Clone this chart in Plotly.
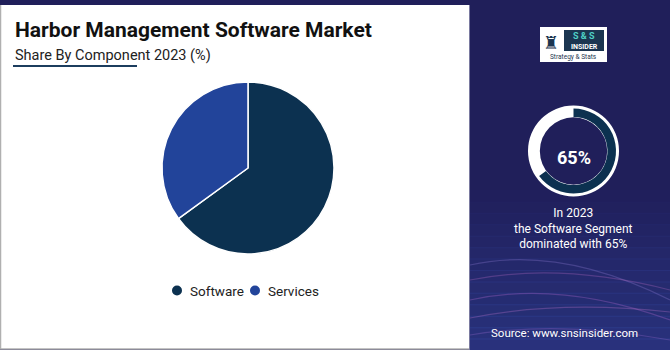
import plotly.graph_objects as go

W, H = 670, 350
categories = ["Software", "Services"]
shares = [65, 35]
colors = ["#0c3150", "#22449a"]
highlight_value = 65

title = "Harbor Management Software Market"
subtitle = "Share By Component 2023 (%)"
note_lines = ["In 2023", "the Software Segment", "dominated with 65%"]
source = "Source: www.snsinsider.com"

NAVY = "#201f5a"


def px(x):
    return x / W


def py(y):
    return 1 - y / H


fig = go.Figure()

# main pie
fig.add_trace(go.Pie(
    labels=categories, values=shares, sort=False, direction="clockwise",
    rotation=0, marker=dict(colors=colors, line=dict(color="white", width=1.5)),
    textinfo="none", hoverinfo="label+percent", showlegend=False,
    domain=dict(x=[px(162), px(334)], y=[py(254), py(82)]),
))

# right donut: white ring
fig.add_trace(go.Pie(
    values=[100], labels=["ring"], hole=0.74, sort=False,
    marker=dict(colors=["white"], line=dict(width=0)),
    textinfo="none", hoverinfo="skip", showlegend=False,
    domain=dict(x=[px(528), px(619)], y=[py(196.5), py(105.5)]),
))
# right donut: highlighted arc
fig.add_trace(go.Pie(
    values=[highlight_value, 100 - highlight_value], labels=["Software", "rest"],
    hole=0.80, sort=False, direction="clockwise", rotation=0,
    marker=dict(colors=[colors[0], "rgba(0,0,0,0)"], line=dict(width=0)),
    textinfo="none", hoverinfo="skip", showlegend=False,
    domain=dict(x=[px(531), px(616)], y=[py(193.5), py(108.5)]),
))

shapes = [
    # full navy background
    dict(type="rect", xref="paper", yref="paper", x0=0, x1=1, y0=0, y1=1,
         fillcolor=NAVY, line=dict(width=0), layer="below"),
]
# gradient toward bluer bottom in right panel
n_steps = 14
for i in range(n_steps):
    y0 = 190 + i * (160 / n_steps)
    shapes.append(dict(type="rect", xref="paper", yref="paper", x0=px(470), x1=1,
                       y0=py(y0 + 160 / n_steps + 1), y1=py(y0),
                       fillcolor=f"rgba(50,70,160,{0.035 * (i + 1):.3f})",
                       line=dict(width=0), layer="below"))
# decorative waves
wave_specs = [
    (265, 245, 300, "rgba(150,130,220,0.30)"),
    (280, 262, 290, "rgba(190,110,200,0.30)"),
    (300, 280, 320, "rgba(170,100,200,0.35)"),
    (318, 300, 312, "rgba(200,120,210,0.30)"),
    (335, 320, 340, "rgba(160,110,210,0.30)"),
]
for ys, yc, ye, col in wave_specs:
    shapes.append(dict(type="path", xref="paper", yref="paper",
                       path=f"M {px(470)},{py(ys)} Q {px(560)},{py(yc)} {px(670)},{py(ye)}",
                       line=dict(color=col, width=1.2), layer="below"))

shapes += [
    # white panel
    dict(type="rect", xref="paper", yref="paper", x0=px(0), x1=px(469),
         y0=py(349), y1=py(5), fillcolor="white", line=dict(width=0), layer="below"),
    dict(type="line", xref="paper", yref="paper", x0=px(0.5), x1=px(0.5),
         y0=py(349), y1=py(5), line=dict(color="#b0b0b0", width=1.5), layer="below"),
    dict(type="line", xref="paper", yref="paper", x0=px(0), x1=px(469),
         y0=py(349), y1=py(349), line=dict(color="#b0b0b0", width=1.5), layer="below"),
    dict(type="line", xref="paper", yref="paper", x0=px(469.5), x1=px(469.5),
         y0=0, y1=py(5), line=dict(color="#7a7aa0", width=1), layer="below"),
    # subtitle underline
    dict(type="line", xref="paper", yref="paper", x0=px(13), x1=px(137),
         y0=py(66), y1=py(66), line=dict(color="#1c3d5e", width=2)),
    # logo box
    dict(type="rect", xref="paper", yref="paper", x0=px(540), x1=px(607),
         y0=py(62), y1=py(27), fillcolor="white", line=dict(width=0)),
    dict(type="rect", xref="paper", yref="paper", x0=px(564), x1=px(604),
         y0=py(51), y1=py(30), fillcolor="#1b3550", line=dict(width=0)),
]

annotations = [
    dict(text=f"<b>{title}</b>", x=px(13), y=py(30), xref="paper", yref="paper",
         xanchor="left", yanchor="middle", showarrow=False,
         font=dict(family="Roboto", size=21, color="#111111")),
    dict(text=subtitle, x=px(13), y=py(55), xref="paper", yref="paper",
         xanchor="left", yanchor="middle", showarrow=False,
         font=dict(family="Roboto", size=14.5, color="#222222")),
    dict(text=f"<b>{highlight_value}%</b>", x=px(573.5), y=py(157), xref="paper", yref="paper",
         xanchor="center", yanchor="middle", showarrow=False,
         font=dict(family="Roboto", size=18, color="white")),
    dict(text="<br>".join(note_lines), x=px(573.5), y=py(228), xref="paper", yref="paper",
         xanchor="center", yanchor="middle", showarrow=False, align="center",
         font=dict(family="Roboto", size=12, color="white")),
    dict(text=source, x=px(564.5), y=py(333), xref="paper", yref="paper",
         xanchor="center", yanchor="middle", showarrow=False,
         font=dict(family="Roboto", size=11.5, color="white")),
    # logo text
    dict(text="<b>S &amp; S</b>", x=px(584), y=py(36), xref="paper", yref="paper",
         xanchor="center", yanchor="middle", showarrow=False,
         font=dict(family="Roboto", size=9, color="#4fd1c5")),
    dict(text="<b>INSIDER</b>", x=px(584), y=py(46.5), xref="paper", yref="paper",
         xanchor="center", yanchor="middle", showarrow=False,
         font=dict(family="Roboto", size=7, color="white")),
    dict(text="Strategy &amp; Stats", x=px(573.5), y=py(57), xref="paper", yref="paper",
         xanchor="center", yanchor="middle", showarrow=False,
         font=dict(family="Roboto", size=6.5, color="#1b3550")),
    dict(text="♜", x=px(551), y=py(42), xref="paper", yref="paper",
         xanchor="center", yanchor="middle", showarrow=False,
         font=dict(family="DejaVu Sans", size=18, color="#1b3550")),
]

# legend (circle markers + labels), built from categories/colors
legend_marker_x = [177, 255]
legend_y = 290.5
for cat, col, mx in zip(categories, colors, legend_marker_x):
    shapes.append(dict(type="circle", xref="paper", yref="paper",
                       x0=px(mx - 5), x1=px(mx + 5), y0=py(legend_y + 5), y1=py(legend_y - 5),
                       fillcolor=col, line=dict(width=0)))
    annotations.append(dict(text=cat, x=px(mx + 11), y=py(legend_y), xref="paper", yref="paper",
                            xanchor="left", yanchor="middle", showarrow=False,
                            font=dict(family="Roboto", size=13.5, color="#222222")))

fig.update_layout(
    width=W, height=H, margin=dict(l=0, r=0, t=0, b=0),
    paper_bgcolor=NAVY, plot_bgcolor="rgba(0,0,0,0)",
    shapes=shapes, annotations=annotations, showlegend=False,
    font=dict(family="Roboto"),
)

fig.write_html("out.html")
